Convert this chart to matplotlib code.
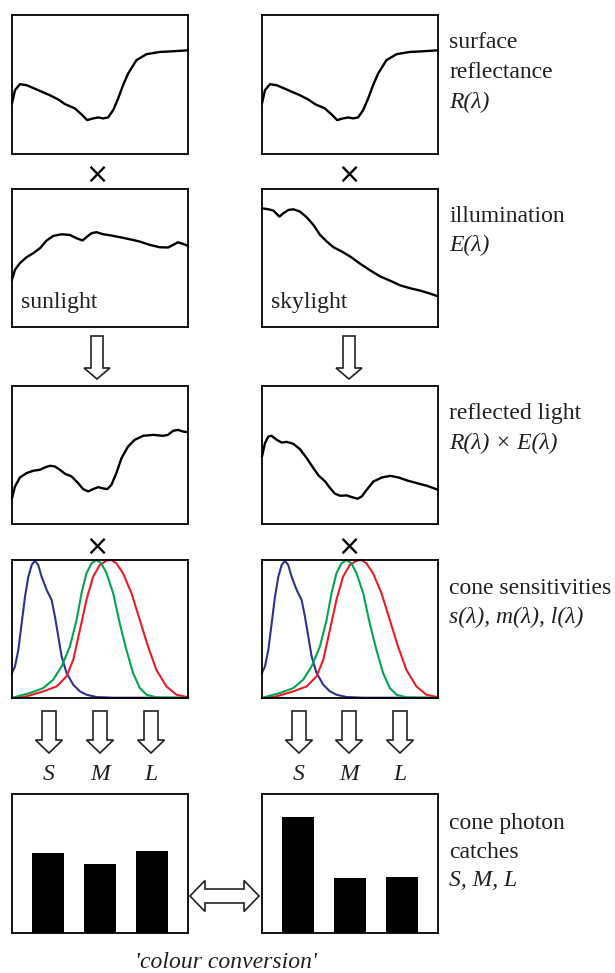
import numpy as np
import matplotlib
matplotlib.use("Agg")
import matplotlib.pyplot as plt
from matplotlib.patches import FancyArrow, Polygon

refl_x = [0, .017, .045, .083, .140, .215, .263, .301, .357, .395, .427, .461, .490,
          .518, .546, .575, .603, .631, .660, .707, .764, .839, .915, 1.0]
refl_y = [.364, .459, .502, .495, .464, .423, .392, .359, .328, .285, .244, .256, .263,
          .256, .263, .316, .399, .495, .579, .675, .718, .734, .739, .746]

sun_x = [0, .017, .045, .083, .121, .159, .197, .234, .282, .329, .367, .401, .423, .452,
         .480, .518, .556, .612, .669, .726, .783, .839, .887, .915, .943, .972, 1.0]
sun_y = [.342, .414, .463, .506, .535, .571, .627, .660, .672, .667, .643, .627, .651, .680,
         .687, .672, .665, .651, .636, .619, .595, .578, .576, .595, .614, .602, .588]

sky_x = [0, .036, .065, .099, .121, .150, .178, .216, .254, .292, .330, .368, .406, .453,
         .501, .558, .615, .672, .729, .787, .844, .901, .958, 1.0]
sky_y = [.860, .853, .843, .800, .824, .848, .853, .836, .795, .740, .667, .619, .578, .547,
         .511, .458, .410, .366, .335, .301, .280, .263, .241, .222]

rsun_x = [0, .017, .045, .083, .121, .159, .187, .216, .244, .272, .301, .338, .376, .404,
          .433, .461, .490, .518, .541, .565, .593, .622, .659, .697, .745, .801, .858, .886,
          .915, .943, .972, 1.0]
rsun_y = [.188, .272, .337, .369, .386, .393, .410, .422, .417, .393, .364, .345, .296, .253,
          .236, .253, .267, .258, .253, .284, .369, .477, .561, .610, .639, .646, .639, .646,
          .675, .682, .670, .665]

rsky_x = [0, .017, .036, .055, .084, .112, .140, .178, .216, .254, .292, .321, .359, .387,
          .415, .444, .482, .510, .543, .567, .595, .633, .681, .728, .776, .823, .880, .937, 1.0]
rsky_y = [.489, .586, .634, .639, .610, .590, .595, .581, .542, .477, .405, .352, .308, .260,
          .219, .205, .207, .195, .183, .200, .248, .308, .337, .349, .337, .316, .296, .277, .248]

s_x = [0, .017, .036, .055, .074, .093, .112, .130, .149, .168, .197, .225, .244, .263, .282,
       .310, .348, .386, .423, .480, .575, 1.0]
s_y = [.181, .229, .349, .542, .735, .880, .964, .995, .964, .880, .783, .711, .590, .446, .301,
       .181, .096, .048, .024, .007, .002, .002]
m_x = [0, .045, .102, .178, .234, .282, .329, .367, .395, .423, .452, .480, .508, .537, .575,
       .612, .650, .688, .726, .764, .820, 1.0]
m_y = [0, .017, .036, .072, .133, .229, .373, .566, .759, .904, .976, 1.0, .976, .904, .759,
       .542, .349, .181, .072, .024, .005, 0]
l_x = [0, .083, .178, .254, .310, .348, .386, .423, .461, .499, .537, .565, .593, .631, .679,
       .726, .773, .820, .877, .934, 1.0]
l_y = [0, .012, .048, .084, .157, .277, .494, .711, .880, .964, .995, 1.0, .976, .904, .759,
       .566, .373, .205, .084, .024, .005]

cones = ["S", "M", "L"]
catch_sun = [0.576, 0.494, 0.590]
catch_sky = [0.837, 0.398, 0.405]

W, H = 615, 973
col_x = [12, 262]
row_y = [(15, 154), (189, 327), (386, 524), (560, 698), (794, 933)]
PW = 176
TXT = "#231f20"
SERIF = "Liberation Serif"

fig = plt.figure(figsize=(W / 100, H / 100), dpi=100)


def panel(col, row):
    x0 = col_x[col]
    y0, y1 = row_y[row]
    ax = fig.add_axes([x0 / W, 1 - y1 / H, PW / W, (y1 - y0) / H])
    ax.set_xticks([]); ax.set_yticks([])
    for sp in ax.spines.values():
        sp.set_linewidth(1.3)
    return ax


def curve(ax, x, y, c="black"):
    ax.plot(x, y, color=c, lw=1.7, solid_capstyle="round", clip_on=False)
    ax.set_xlim(0, 1); ax.set_ylim(0, 1)


for col, (illum, refl_light, name) in enumerate([((sun_x, sun_y), (rsun_x, rsun_y), "sunlight"),
                                                  ((sky_x, sky_y), (rsky_x, rsky_y), "skylight")]):
    curve(panel(col, 0), refl_x, refl_y)
    ax = panel(col, 1)
    curve(ax, *illum)
    ax.text(0.05, 0.18, name, transform=ax.transAxes, family=SERIF, fontsize=17,
            color=TXT, va="center", ha="left")
    curve(panel(col, 2), *refl_light)
    ax = panel(col, 3)
    ax.plot(s_x, s_y, color="#2e3192", lw=1.5, clip_on=False)
    ax.plot(l_x, l_y, color="#ed1c24", lw=1.5, clip_on=False)
    ax.plot(m_x, m_y, color="#00a651", lw=1.5, clip_on=False)
    ax.set_xlim(0, 1); ax.set_ylim(0, 1)
    ax = panel(col, 4)
    ax.bar(np.arange(3), [catch_sun, catch_sky][col], width=0.61, color="black")
    ax.set_xlim(-0.7, 2.7); ax.set_ylim(0, 1)

# overlay in pixel coordinates for arrows, symbols and labels
ov = fig.add_axes([0, 0, 1, 1])
ov.set_xlim(0, W); ov.set_ylim(H, 0)
ov.axis("off")

for cx in (97, 349):
    for ty in (175, 547):
        ov.text(cx, ty, "×", fontsize=20, ha="center", va="center", color="black",
                family="DejaVu Sans")
    ov.add_patch(FancyArrow(cx, 336, 0, 43, width=12, head_width=26, head_length=11,
                            length_includes_head=True, fc="white", ec="#222222", lw=1.2))

for xs in ((49, 100, 151), (299, 349, 400)):
    for cx, lab in zip(xs, cones):
        ov.add_patch(FancyArrow(cx, 711, 0, 42, width=14, head_width=27, head_length=13,
                                length_includes_head=True, fc="white", ec="#222222", lw=1.2))
        ov.text(cx, 774, lab, family=SERIF, style="italic", fontsize=17, color=TXT,
                ha="center", va="center")

# double-headed arrow between the two bar panels
x0, x1, yc, hh, sh, hl = 190, 259, 896, 15.5, 7, 15
ov.add_patch(Polygon([(x0, yc), (x0 + hl, yc - hh), (x0 + hl, yc - sh), (x1 - hl, yc - sh),
                      (x1 - hl, yc - hh), (x1, yc), (x1 - hl, yc + hh), (x1 - hl, yc + sh),
                      (x0 + hl, yc + sh), (x0 + hl, yc + hh)], closed=True,
                     fc="white", ec="#222222", lw=1.2))
ov.text(226, 963, "'colour conversion'", family=SERIF, style="italic", fontsize=17,
        color=TXT, ha="center", va="center")

labels = [
    (43, "surface", "normal"), (73, "reflectance", "normal"), (102, "R(λ)", "italic"),
    (217, "illumination", "normal"), (245, "E(λ)", "italic"),
    (413, "reflected light", "normal"), (443, "R(λ) × E(λ)", "italic"),
    (588, "cone sensitivities", "normal"), (617, "s(λ), m(λ), l(λ)", "italic"),
    (823, "cone photon", "normal"), (852, "catches", "normal"), (881, "S, M, L", "italic"),
]
for y, s, st in labels:
    ov.text(449, y, s, family=SERIF, style=st, fontsize=17, color=TXT,
            ha="left", va="center")

fig.savefig("out.png", dpi=100)
